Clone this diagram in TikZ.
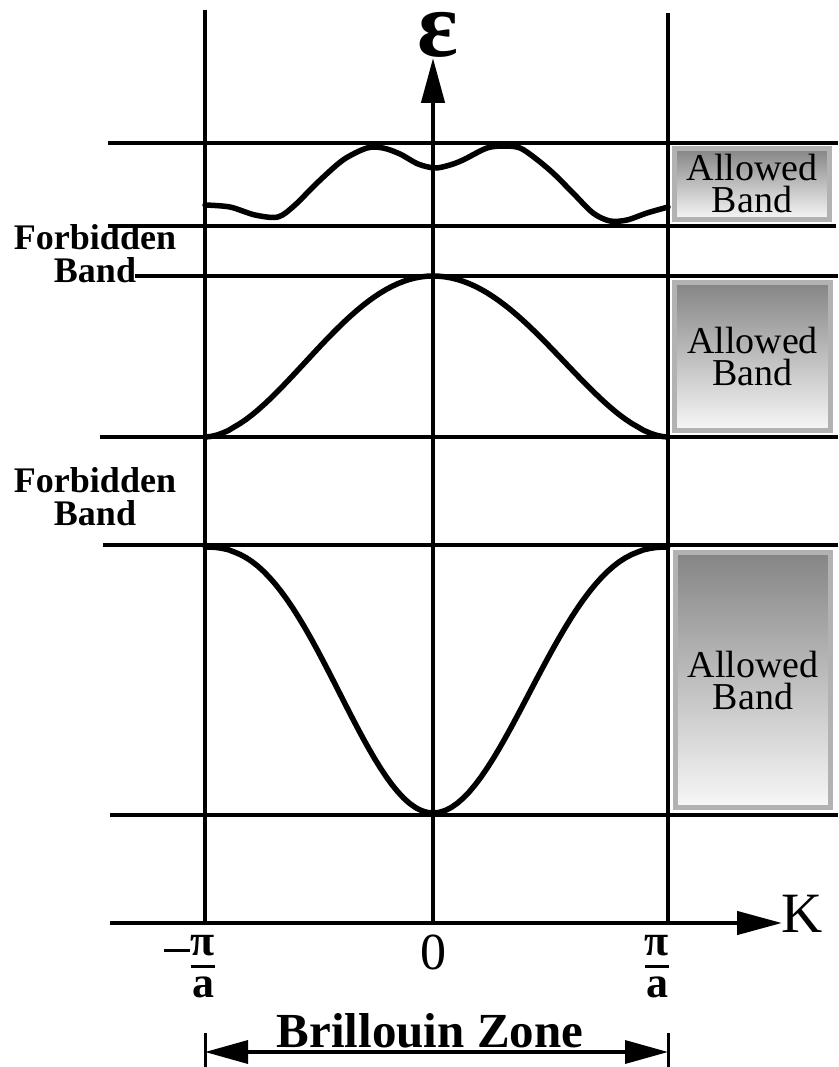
\documentclass[tikz,border=0pt]{standalone}
\usepackage{fontspec}
\setmainfont{Liberation Serif}
\usetikzlibrary{arrows.meta}

\begin{document}
\begin{tikzpicture}[x=1pt,y=-1pt,
  gridline/.style={line width=4.5pt},
  bandcurve/.style={line width=5.5pt,line join=round,line cap=round},
  bandbox/.style={draw=black!30,line width=5pt,top color=black!48,bottom color=black!3,
    inner sep=0pt,align=center,font=\fontsize{38}{32}\selectfont},
  forbid/.style={inner sep=0pt,align=center,font=\fontsize{36}{33}\selectfont\bfseries},
  tick/.style={inner sep=0pt,font=\fontsize{44}{44}\selectfont},
  bigtip/.style={line width=4.5pt,-{Triangle[length=45pt,width=23pt]}}]
\useasboundingbox (0,0) rectangle (838,1067);
% band edges
\draw[gridline] (108,143) -- (838,143);
\draw[gridline] (108,226) -- (836,226);
\draw[gridline] (135,276) -- (838,276);
\draw[gridline] (100,437) -- (838,437);
\draw[gridline] (103,545) -- (838,545);
\draw[gridline] (110,815) -- (838,815);
% zone edges and axes
\coordinate (zl) at (205,923);
\coordinate (zr) at (668,923);
\coordinate (origin) at (433,923);
\coordinate (etop) at (433,58);
\coordinate (kleft) at (110,923);
\coordinate (kright) at (782,923);
\draw[gridline] (zl) -- (205,10);
\draw[gridline] (zr) -- (668,13);
\draw[bigtip] (origin) -- (etop);
\draw[bigtip] (kleft) -- (kright);
\node[inner sep=0pt,anchor=base,font=\fontsize{66}{66}\selectfont\bfseries] (eps) at (438,57) {\scalebox{1.45}[1.42]{ε}};
\node[inner sep=0pt,font=\fontsize{57}{57}\selectfont] (kay) at (802,914) {K};
% bands
\draw[bandcurve] plot[smooth] coordinates {(205,205) (230,207) (255,215) (278,217) (295,205)
  (317,183) (343,160) (367,148) (383,148) (400,154) (418,164) (435,168) (450,165) (463,160)
  (487,148) (505,146) (520,148) (535,158) (553,173) (573,193) (593,213) (610,221) (627,220)
  (647,213) (668,207)};
\draw[bandcurve] plot[domain=0.001:1,samples=40] ({205+228*\x},{437-80.5*(1-cos(180*\x^0.9))})
  -- plot[domain=1:0.001,samples=40] ({668-235*\x},{437-80.5*(1-cos(180*\x^0.9))});
\draw[bandcurve] plot[domain=0.001:1,samples=40] ({205+228*\x},{547+133*(1-cos(180*\x^1.2))})
  -- plot[domain=1:0.001,samples=40] ({668-235*\x},{547+133*(1-cos(180*\x^1.2))});
% labels
\node[bandbox,minimum width=155,minimum height=71] (allowA) at (752,184) {Allowed\\Band};
\node[bandbox,minimum width=156,minimum height=148] (allowB) at (752.5,356.5) {Allowed\\Band};
\node[bandbox,minimum width=155,minimum height=255] (allowC) at (753,680) {Allowed\\Band};
\node[forbid] (forbidA) at (95,254) {Forbidden\\Band};
\node[forbid] (forbidB) at (95,497) {Forbidden\\Band};
\node[tick] (kmin) at (190,967) {\rule[21pt]{26pt}{3.5pt}$\displaystyle{\hbox{\bfseries π}\above 3pt\hbox{\bfseries a}}$};
\node[tick,font=\fontsize{52}{52}\selectfont] (kzero) at (433,952) {0};
\node[tick] (kmax) at (657,967) {$\displaystyle{\hbox{\bfseries π}\above 3pt\hbox{\bfseries a}}$};
% zone width
\coordinate (bzl) at (205,1052);
\coordinate (bzr) at (668,1052);
\draw[line width=3pt] (205,1033) -- (205,1067);
\draw[line width=3pt] (668,1033) -- (668,1067);
\draw[line width=3.5pt,{Triangle[length=43pt,width=23pt]}-{Triangle[length=43pt,width=23pt]}] (bzl) -- (bzr);
\node[inner sep=0pt,anchor=base,font=\fontsize{49}{49}\selectfont\bfseries] (zone) at (430,1047) {Brillouin Zone};
\end{tikzpicture}
\end{document}
